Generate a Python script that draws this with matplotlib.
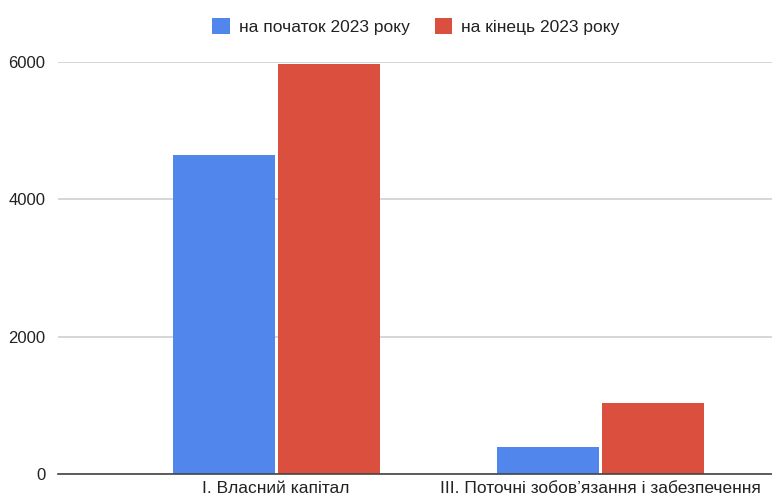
import matplotlib.pyplot as plt
import numpy as np

plt.rcParams['font.family'] = ['Liberation Sans', 'DejaVu Sans']

categories = ['I. Власний капітал', 'III. Поточні зобов’язання і забезпечення']
start_2023 = [4650, 400]
end_2023 = [5970, 1040]
series_names = ['на початок 2023 року', 'на кінець 2023 року']
colors = ['#5186EC', '#DB4F3F']
yticks = [0, 2000, 4000, 6000]

fig = plt.figure(figsize=(7.72, 5), dpi=100)
ax = fig.add_axes([58 / 772, 1 - 474 / 500, 1 - 58 / 772, (474 - 62) / 500])

x = np.arange(len(categories))
w = 102 / 324
gap = 3 / 324
ax.bar(x - w / 2 - gap / 2, start_2023, w, color=colors[0], label=series_names[0], zorder=3)
ax.bar(x + w / 2 + gap / 2, end_2023, w, color=colors[1], label=series_names[1], zorder=3)

ax.set_xlim((58 - 276) / 324, (772 - 276) / 324)
ax.set_ylim(0, 6000)
ax.set_yticks(yticks)
ax.set_yticklabels([str(v) for v in yticks], fontsize=12, color='#222222')
ax.set_xticks(x)
ax.set_xticklabels(categories, fontsize=12.5, color='#222222')
ax.tick_params(axis='y', length=0, pad=9)
ax.tick_params(axis='x', length=0, pad=5)

for s in ['top', 'right', 'left']:
    ax.spines[s].set_visible(False)
ax.spines['bottom'].set_color('#444444')
ax.spines['bottom'].set_linewidth(1.2)
ax.spines['bottom'].set_zorder(4)
ax.grid(axis='y', color='#d0d0d0', linewidth=1.2, zorder=0)

leg = fig.legend(loc='upper center', bbox_to_anchor=(0.539, 0.995), ncol=2, frameon=False,
                 fontsize=12.5, handlelength=1.0, handleheight=1.0, handletextpad=0.55,
                 columnspacing=1.4)
for t in leg.get_texts():
    t.set_color('#222222')

fig.savefig('out.png', dpi=100)
